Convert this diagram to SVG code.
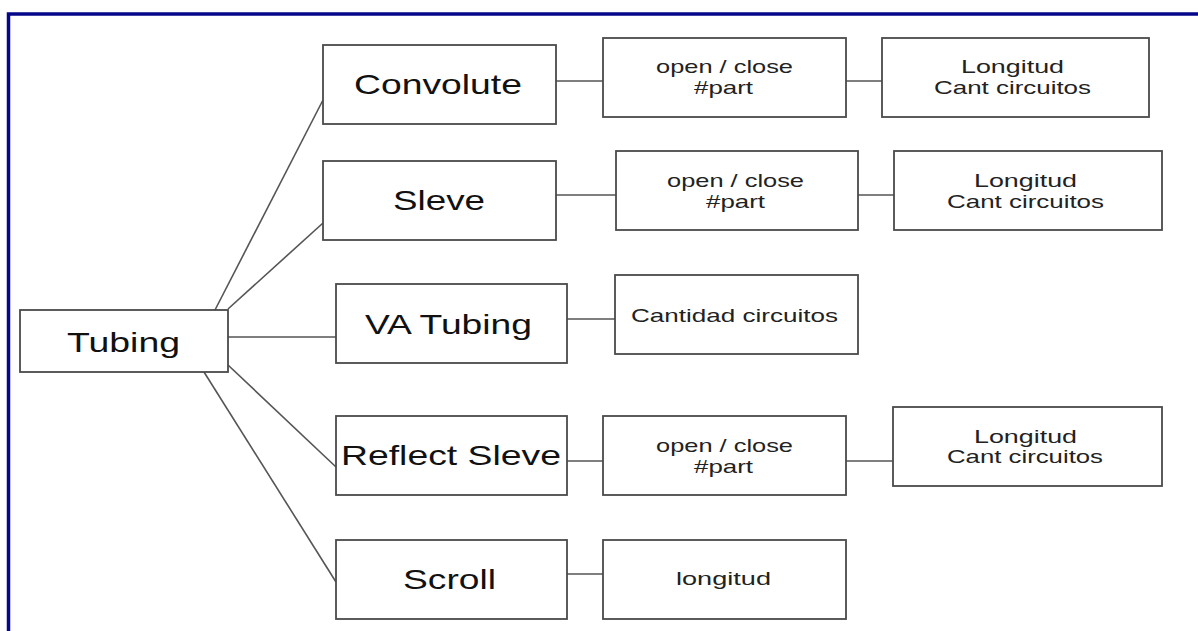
<svg xmlns="http://www.w3.org/2000/svg" width="1198" height="631" viewBox="0 0 1198 631">
<style>
.box{fill:#fff;stroke:#4a4a4a;stroke-width:1.8}
.con{stroke:#555;stroke-width:1.6;fill:none}
.big{font-family:"Liberation Sans",Arial,sans-serif;font-size:28px;fill:#111}
.sm{font-family:"Liberation Sans",Arial,sans-serif;font-size:19px;fill:#222}
</style>
<rect width="1198" height="631" fill="#fff"/>
<path d="M8.5 640 V14 H1205" fill="none" stroke="#06068a" stroke-width="3.5"/>
<g id="connectors">
<line class="con" x1="215" y1="310" x2="323" y2="100"/>
<line class="con" x1="228" y1="309" x2="323" y2="223"/>
<line class="con" x1="228" y1="337" x2="336" y2="337"/>
<line class="con" x1="228" y1="365" x2="336" y2="467"/>
<line class="con" x1="204" y1="372" x2="336" y2="582"/>
<line class="con" x1="556" y1="81" x2="603" y2="81"/>
<line class="con" x1="846" y1="81" x2="882" y2="81"/>
<line class="con" x1="556" y1="195" x2="616" y2="195"/>
<line class="con" x1="858" y1="195" x2="894" y2="195"/>
<line class="con" x1="567" y1="319" x2="615" y2="319"/>
<line class="con" x1="567" y1="461" x2="603" y2="461"/>
<line class="con" x1="846" y1="461" x2="893" y2="461"/>
<line class="con" x1="567" y1="574" x2="603" y2="574"/>
</g>
<g id="tubing"><rect class="box" x="20" y="310" width="208" height="62"/><text class="big" x="67" y="352" textLength="113" lengthAdjust="spacingAndGlyphs">Tubing</text></g>
<g id="convolute"><rect class="box" x="323" y="45" width="233" height="79"/><text class="big" x="354" y="94" textLength="168" lengthAdjust="spacingAndGlyphs">Convolute</text></g>
<g id="sleve"><rect class="box" x="323" y="161" width="233" height="79"/><text class="big" x="393" y="210" textLength="92" lengthAdjust="spacingAndGlyphs">Sleve</text></g>
<g id="va-tubing"><rect class="box" x="336" y="284" width="231" height="79"/><text class="big" x="365" y="334" textLength="167" lengthAdjust="spacingAndGlyphs">VA Tubing</text></g>
<g id="reflect-sleve"><rect class="box" x="336" y="416" width="231" height="79"/><text class="big" x="341" y="465" textLength="220" lengthAdjust="spacingAndGlyphs">Reflect Sleve</text></g>
<g id="scroll"><rect class="box" x="336" y="540" width="231" height="79"/><text class="big" x="403" y="589" textLength="93" lengthAdjust="spacingAndGlyphs">Scroll</text></g>
<g id="convolute-open"><rect class="box" x="603" y="38" width="243" height="79"/><text class="sm" x="656" y="73" textLength="137" lengthAdjust="spacingAndGlyphs">open / close</text><text class="sm" x="694" y="94" textLength="59" lengthAdjust="spacingAndGlyphs">#part</text></g>
<g id="convolute-longitud"><rect class="box" x="882" y="38" width="267" height="79"/><text class="sm" x="961" y="73" textLength="103" lengthAdjust="spacingAndGlyphs">Longitud</text><text class="sm" x="934" y="94" textLength="157" lengthAdjust="spacingAndGlyphs">Cant circuitos</text></g>
<g id="sleve-open"><rect class="box" x="616" y="151" width="242" height="79"/><text class="sm" x="667" y="187" textLength="137" lengthAdjust="spacingAndGlyphs">open / close</text><text class="sm" x="706" y="208" textLength="59" lengthAdjust="spacingAndGlyphs">#part</text></g>
<g id="sleve-longitud"><rect class="box" x="894" y="151" width="268" height="79"/><text class="sm" x="974" y="187" textLength="103" lengthAdjust="spacingAndGlyphs">Longitud</text><text class="sm" x="947" y="208" textLength="157" lengthAdjust="spacingAndGlyphs">Cant circuitos</text></g>
<g id="va-cantidad"><rect class="box" x="615" y="275" width="243" height="79"/><text class="sm" x="631" y="322" textLength="207" lengthAdjust="spacingAndGlyphs">Cantidad circuitos</text></g>
<g id="reflect-open"><rect class="box" x="603" y="416" width="243" height="79"/><text class="sm" x="656" y="452" textLength="137" lengthAdjust="spacingAndGlyphs">open / close</text><text class="sm" x="694" y="473" textLength="59" lengthAdjust="spacingAndGlyphs">#part</text></g>
<g id="reflect-longitud"><rect class="box" x="893" y="407" width="269" height="79"/><text class="sm" x="974" y="443" textLength="103" lengthAdjust="spacingAndGlyphs">Longitud</text><text class="sm" x="947" y="463" textLength="156" lengthAdjust="spacingAndGlyphs">Cant circuitos</text></g>
<g id="scroll-longitud"><rect class="box" x="603" y="540" width="243" height="79"/><text class="sm" x="676" y="585" textLength="95" lengthAdjust="spacingAndGlyphs">longitud</text></g>
</svg>
